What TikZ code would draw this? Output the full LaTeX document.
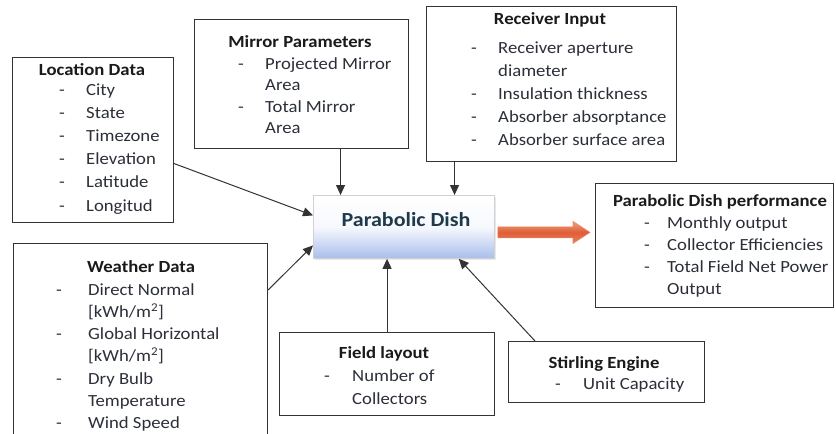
\documentclass[tikz,border=0pt]{standalone}
\usepackage{fontspec}
\setmainfont[FakeStretch=1.1]{Carlito}
\usetikzlibrary{arrows.meta,calc,shadows}

\definecolor{frame}{HTML}{333333}
\definecolor{ink}{HTML}{2B2F38}
\definecolor{head}{HTML}{1A1A1A}
\definecolor{dishink}{HTML}{1F3A4A}
\definecolor{dishblue}{HTML}{A9BEEB}
\definecolor{arrTop}{HTML}{F2A07A}
\definecolor{arrMid}{HTML}{DE5E38}
\definecolor{arrBot}{HTML}{E9805A}
\definecolor{arrEdge}{HTML}{E58A66}

\newcommand\dsh[1][27pt]{\makebox[#1][l]{-}}
\newcommand\cnt[1][27pt]{\hspace*{#1}}

% one list line per node, baselines spaced evenly
\newcommand\putlist[5]{%
  \foreach \t [count=\i] in {#5} {%
    \node[itm] (#1-\i) at (#2,{#3+(\i-1)*#4}) {\t};
  }%
}

\begin{document}
\begin{tikzpicture}[x=1pt,y=-1pt,
  panel/.style={draw=frame,line width=1.1pt,fill=white,rectangle,
    anchor=north west,inner sep=0pt},
  ttl/.style={font=\fontsize{17}{20}\selectfont\bfseries,text=head,
    anchor=base,inner sep=0pt},
  itm/.style={font=\fontsize{17}{20}\selectfont,text=ink,
    anchor=base west,inner sep=0pt},
  conn/.style={draw=frame,line width=1pt,-{Triangle[length=10pt,width=9pt]}}]

\clip (0,0) rectangle (836,434);
\fill[white] (0,0) rectangle (836,434);

% ---------- boxes ----------
\node[panel,minimum width=161pt,minimum height=165pt] (loc) at (12,57) {};
\node[panel,minimum width=214pt,minimum height=129pt] (mir) at (194,19) {};
\node[panel,minimum width=250pt,minimum height=155pt] (rec) at (426,6) {};
\node[panel,minimum width=238pt,minimum height=124pt] (perf) at (595,183) {};
\node[panel,minimum width=254pt,minimum height=205pt] (wea) at (13,243) {};
\node[panel,minimum width=215pt,minimum height=83pt] (fld) at (279,332) {};
\node[panel,minimum width=196pt,minimum height=61pt] (stir) at (508,341) {};

% central block
\node[rectangle,anchor=north west,minimum width=181pt,minimum height=63pt,
  inner sep=0pt,draw=black!18,line width=0.8pt,
  top color=white,bottom color=dishblue,middle color=white!90!dishblue,
  drop shadow={opacity=0.18,shadow xshift=1.5pt,shadow yshift=-1.5pt}]
  (dish) at (313,195) {};
\node[font=\fontsize{20}{24}\selectfont\bfseries,text=dishink,anchor=base,
  inner sep=0pt] (dishT) at (406,226) {Parabolic Dish};

% ---------- texts ----------
\node[ttl] (locT) at (92,75) {Location Data};
\putlist{loc}{59}{95}{23.2}{\dsh[27pt]City,\dsh[27pt]State,\dsh[27pt]Timezone,
  \dsh[27pt]Elevation,\dsh[27pt]Latitude,\dsh[27pt]Longitud}

\node[ttl] (mirT) at (300,47) {Mirror Parameters};
\putlist{mir}{238}{69}{21.5}{\dsh Projected Mirror,\cnt Area,
  \dsh Total Mirror,\cnt Area}

\node[ttl] (recT) at (550,24) {Receiver Input};
\putlist{rec}{471}{53}{23.2}{\dsh Receiver aperture,\cnt diameter,
  \dsh Insulation thickness,\dsh Absorber absorptance,
  \dsh Absorber surface area}

\node[ttl] (perfT) at (720,206) {Parabolic Dish performance};
\putlist{perf}{644}{228}{22.2}{\dsh[23pt]Monthly output,
  \dsh[23pt]Collector Efficiencies,\dsh[23pt]Total Field Net Power,
  \cnt[23pt]Output}

\node[ttl] (weaT) at (141,272) {Weather Data};
\putlist{wea}{56}{295}{22.3}{\dsh[32pt]Direct Normal,
  \cnt[32pt]\relax[kWh/m\textsuperscript{2}],
  \dsh[32pt]Global Horizontal,\cnt[32pt]\relax[kWh/m\textsuperscript{2}],
  \dsh[32pt]Dry Bulb,\cnt[32pt]Temperature,\dsh[32pt]Wind Speed}

\node[ttl] (fldT) at (384,358) {Field layout};
\putlist{fld}{324}{381}{23}{\dsh[28pt]Number of,\cnt[28pt]Collectors}

\node[ttl] (stirT) at (604,368) {Stirling Engine};
\putlist{stir}{555}{389}{23}{\dsh[28pt]Unit Capacity}

% ---------- connectors ----------
\draw[conn] ([xshift=39pt]mir.south) -- ([xshift=39pt]mir.south |- dish.north);
\draw[conn] ([xshift=-97pt]rec.south) -- ([xshift=-97pt]rec.south |- dish.north);
\draw[conn] (fld.north) -- (fld.north |- dish.south);
\draw[conn] ([xshift=27pt]stir.north west) -- ([xshift=-36pt]dish.south east);
\draw[conn] ([yshift=-23.5pt]loc.east) -- ([yshift=11.5pt]dish.west);
\draw[conn] ([yshift=-47pt]wea.north east) -- ([yshift=-18.5pt]dish.west);

% output arrow
\shadedraw[top color=arrTop,bottom color=arrBot,middle color=arrMid,
  draw=arrEdge,line width=0.6pt]
  let \p1=([xshift=3pt,yshift=-5.5pt]dish.east),
      \p2=([xshift=-5pt,yshift=-5.5pt]perf.west |- dish.east) in
  (\x1,\y1+5.5pt) -- (\x2-17pt,\y1+5.5pt) -- (\x2-17pt,\y1+11pt) -- (\x2,\y1)
  -- (\x2-17pt,\y1-11pt) -- (\x2-17pt,\y1-5.5pt) -- (\x1,\y1-5.5pt) -- cycle;

\end{tikzpicture}
\end{document}
